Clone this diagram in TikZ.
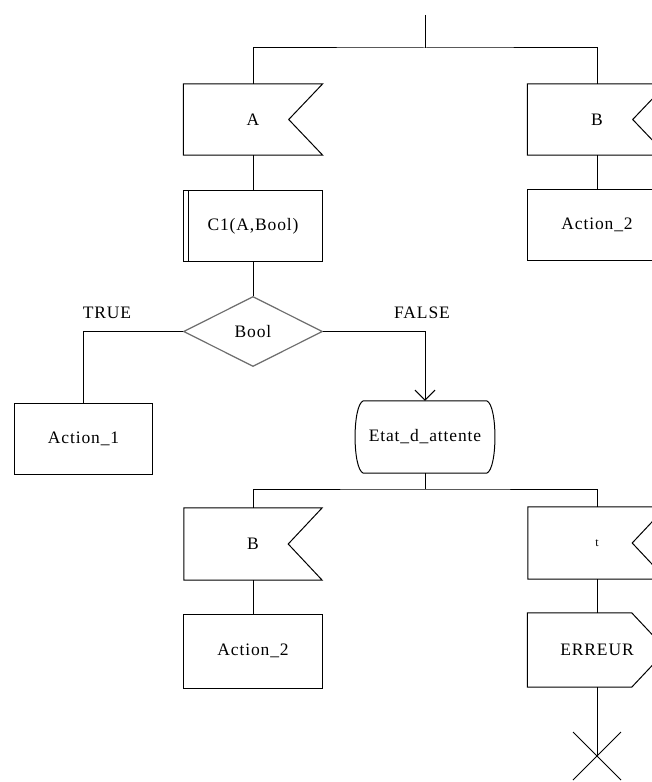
\documentclass[tikz,border=0pt]{standalone}
\usepackage{fontspec}
\setmainfont{Liberation Serif}[LetterSpace=5]
\usetikzlibrary{shapes.geometric,shapes.misc,arrows.meta,calc}
\begin{document}
\begin{tikzpicture}[x=1bp,y=-1bp,
  every node/.style={font=\fontsize{17.5bp}{20bp}\selectfont},
  line/.style={draw=black,line width=1bp},
  box/.style={rectangle,minimum width=139bp,minimum height=71bp,inner sep=0pt},
  taskbox/.style={box,line},
  label/.style={inner sep=0pt},
  arr/.style={line,-{Straight Barb[length=10bp,width=20bp,line width=1bp]}}
]
\useasboundingbox (0,0) rectangle (652,782);
\clip (0,0) rectangle (652,782);

% ---- receive-signal symbols (drawn as notched boxes) ----
\newcommand{\inputshape}[1]{%
  \draw[line] (#1.north west) -- (#1.north east) -- ([xshift=-34bp]#1.east)
    -- (#1.south east) -- (#1.south west) -- cycle;}

\coordinate (top) at (425,15);
\coordinate (j1) at (425,48);

\node[box] (A) at (253,119.5) {A};
\inputshape{A}
\node[box] (B) at (597,119.5) {B};
\inputshape{B}

\node[taskbox] (C1) at (253,226) {C1(A,Bool)};
\draw[line] ([xshift=5bp]C1.north west) -- ([xshift=5bp]C1.south west);

\node[taskbox] (ActB) at (597,225) {Action\_2};

\node[diamond,draw=gray!85!black,line width=1.2bp,minimum width=139bp,
      minimum height=70bp,inner sep=0pt] (Bool) at (253,331.5) {Bool};

\node[label] (tl) at (107,313) {TRUE};
\node[label] (fl) at (422,313) {FALSE};

\node[taskbox,minimum width=137bp] (Act1) at (83.5,438.5) {Action\_1};

% state symbol: straight top and bottom, rounded sides
\node[box,minimum width=123bp,minimum height=72bp] (Etat) at (425,437) {Etat\_d\_attente};
\draw[line] (Etat.north west) -- (Etat.north east)
  .. controls ($(Etat.north east)+(11,4)$) and ($(Etat.south east)+(11,-4)$) .. (Etat.south east)
  -- (Etat.south west)
  .. controls ($(Etat.south west)+(-11,-4)$) and ($(Etat.north west)+(-11,4)$) .. (Etat.north west);

\coordinate (j2) at (425,489);

\node[box,minimum width=138bp,minimum height=72bp] (B2) at (253,544) {B};
\inputshape{B2}
\node[box,minimum width=138bp,minimum height=72bp] (T) at (597,543) {\fontsize{12bp}{13bp}\selectfont t};
\inputshape{T}

\node[taskbox,minimum height=74bp] (Act2) at (253,651) {Action\_2};

% send-signal symbol
\node[box,minimum height=74bp] (Err) at (597,650) {ERREUR};
\draw[line] (Err.north west) -- ([xshift=-35bp]Err.north east) -- (Err.east)
  -- ([xshift=-35bp]Err.south east) -- (Err.south west) -- cycle;

% stop symbol
\node[cross out,draw,line width=1bp,minimum size=47bp,inner sep=0pt] (X) at (597,756) {};

% ---- connectors ----
\draw[line] (top) -- (j1);
\draw[line] (A.north) |- (j1) -| (B.north);
\draw[line] (A.south) -- (C1.north);
\draw[line] (B.south) -- (ActB.north);
\draw[line] (C1.south) -- (Bool.north);
\draw[line] (Bool.west) -| (Act1.north);
\draw[arr] (Bool.east) -| (Etat.north);
\draw[line] (Etat.south) -- (j2);
\draw[line] (B2.north) |- (j2) -| (T.north);
\draw[line] (B2.south) -- (Act2.north);
\draw[line] (T.south) -- (Err.north);
\draw[line] (Err.south) -- (X.center);
\end{tikzpicture}
\end{document}
